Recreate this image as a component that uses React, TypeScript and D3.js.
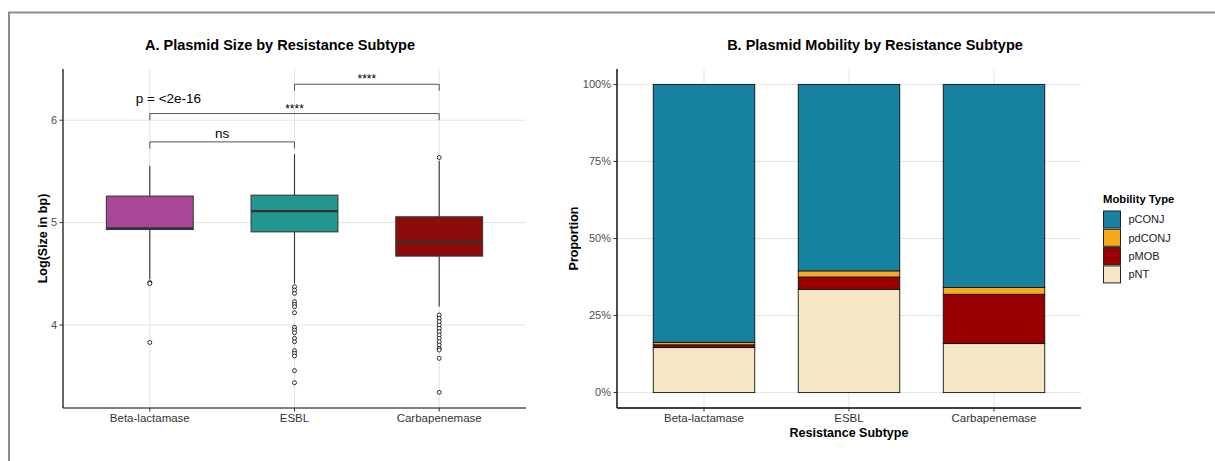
import React from 'react';
import * as d3 from 'd3';

// ---------- Data ----------
const subtypes = ['Beta-lactamase', 'ESBL', 'Carbapenemase'];
const boxColors = ['#A84797', '#23978F', '#8E0B0B'];
const whiskerLow = [4.445, 4.405, 4.18];
const q1 = [4.933, 4.91, 4.673];
const medians = [4.943, 5.112, 4.813];
const q3 = [5.259, 5.268, 5.057];
const whiskerHigh = [5.554, 5.668, 5.605];
const outliersBeta = [4.415, 4.405, 3.83];
const outliersESBL = [4.374, 4.341, 4.309, 4.228, 4.202, 4.179, 4.12, 3.977, 3.951, 3.925, 3.87, 3.837, 3.75, 3.724, 3.698, 3.555, 3.437];
const outliersCarba = [5.636, 4.098, 4.065, 4.033, 4.0, 3.967, 3.935, 3.902, 3.87, 3.837, 3.805, 3.772, 3.756, 3.675, 3.343];
const outliers = [outliersBeta, outliersESBL, outliersCarba];
const sizeTicks = [4, 5, 6];

const comparisonFrom = [0, 0, 1];
const comparisonTo = [1, 2, 2];
const comparisonY = [5.788, 6.065, 6.351];
const comparisonLabels = ['ns', '****', '****'];
const globalPLabel = 'p = <2e-16';

const mobilityTypes = ['pCONJ', 'pdCONJ', 'pMOB', 'pNT'];
const mobilityColors = ['#1681A1', '#F6A91D', '#9A0000', '#F6E7C4'];
const pCONJ = [0.837, 0.605, 0.659];
const pdCONJ = [0.008, 0.02, 0.022];
const pMOB = [0.009, 0.04, 0.16];
const pNT = [0.146, 0.335, 0.159];
const proportionTicks = [0, 0.25, 0.5, 0.75, 1];

// ---------- Layout ----------
const W = 1215;
const H = 461;
const FONT = '"Liberation Sans", Arial, Helvetica, sans-serif';
const GRID = '#e3e3e3';
const TICKCOL = '#4d4d4d';

const A = { x0: 63, x1: 526, y0: 69, y1: 408 };
const B = { x0: 617, x1: 1081, y0: 69, y1: 408 };

export default function App() {
  // Panel A scales
  const xA = d3.scalePoint<string>().domain(subtypes).range([A.x0, A.x1]).padding(0.6);
  const yA = d3.scaleLinear().domain([3.19, 6.5]).range([A.y1, A.y0]);
  const boxW = xA.step() * 0.6;

  // Panel B scales
  const xB = d3.scalePoint<string>().domain(subtypes).range([B.x0, B.x1]).padding(0.6);
  const yB = d3.scaleLinear().domain([-0.05, 1.05]).range([B.y1, B.y0]);
  const barW = xB.step() * 0.7;
  const pct = d3.format('.0%');

  const rows = subtypes.map((s, i) => ({
    subtype: s,
    pCONJ: pCONJ[i],
    pdCONJ: pdCONJ[i],
    pMOB: pMOB[i],
    pNT: pNT[i],
  }));
  const stackKeys = ['pNT', 'pMOB', 'pdCONJ', 'pCONJ'];
  const stacked = d3.stack<any>().keys(stackKeys)(rows);
  const colorOf = d3.scaleOrdinal<string, string>().domain(mobilityTypes).range(mobilityColors);

  const tip = 6.6;

  return (
    <svg
      width={W}
      height={H}
      style={{ position: 'absolute', left: 0, top: 0, background: '#fff' }}
      fontFamily={FONT}
    >
      <rect x={0} y={0} width={W} height={H} fill="#fff" />
      {/* outer frame */}
      <path d={`M9,${H} L9,12.5 L${W},12.5`} fill="none" stroke="#8c8c8c" strokeWidth={2} />

      {/* ================= Panel A ================= */}
      <text x={280} y={50} textAnchor="middle" fontSize={14.5} fontWeight="bold" fill="#000">
        A. Plasmid Size by Resistance Subtype
      </text>
      {/* grid */}
      {sizeTicks.map((t) => (
        <line key={'ga' + t} x1={A.x0} x2={A.x1} y1={yA(t)} y2={yA(t)} stroke={GRID} strokeWidth={1} />
      ))}
      {subtypes.map((s) => (
        <line key={'gva' + s} x1={xA(s)} x2={xA(s)} y1={A.y0} y2={A.y1} stroke={GRID} strokeWidth={1} />
      ))}
      {/* boxes */}
      {subtypes.map((s, i) => {
        const cx = xA(s)!;
        return (
          <g key={'box' + s}>
            <line x1={cx} x2={cx} y1={yA(q3[i])} y2={yA(whiskerHigh[i])} stroke="#333" strokeWidth={1.1} />
            <line x1={cx} x2={cx} y1={yA(q1[i])} y2={yA(whiskerLow[i])} stroke="#333" strokeWidth={1.1} />
            <rect
              x={cx - boxW / 2}
              y={yA(q3[i])}
              width={boxW}
              height={yA(q1[i]) - yA(q3[i])}
              fill={boxColors[i]}
              stroke="#3a3a3a"
              strokeWidth={1.1}
            />
            <line
              x1={cx - boxW / 2}
              x2={cx + boxW / 2}
              y1={yA(medians[i])}
              y2={yA(medians[i])}
              stroke="#333"
              strokeWidth={2.2}
            />
            {outliers[i].map((v, j) => (
              <circle key={j} cx={cx} cy={yA(v)} r={2} fill="#fff" stroke="#000" strokeWidth={0.8} />
            ))}
          </g>
        );
      })}
      {/* comparisons */}
      {comparisonLabels.map((lab, k) => {
        const xa = xA(subtypes[comparisonFrom[k]])!;
        const xb = xA(subtypes[comparisonTo[k]])!;
        const y = yA(comparisonY[k]);
        return (
          <g key={'cmp' + k}>
            <path
              d={`M${xa},${y + tip} L${xa},${y} L${xb},${y} L${xb},${y + tip}`}
              fill="none"
              stroke="#555"
              strokeWidth={1}
            />
            <text
              x={(xa + xb) / 2}
              y={lab === 'ns' ? y - 4 : y - 4 + 3}
              textAnchor="middle"
              fontSize={lab === 'ns' ? 13.5 : 12}
              fill="#000"
            >
              {lab}
            </text>
          </g>
        );
      })}
      <text x={xA(subtypes[0])! - 14} y={103} fontSize={13.5} fill="#000">
        {globalPLabel}
      </text>
      {/* axes */}
      <line x1={A.x0} x2={A.x0} y1={A.y0} y2={A.y1} stroke="#000" strokeWidth={1.2} />
      <line x1={A.x0} x2={A.x1} y1={A.y1} y2={A.y1} stroke="#000" strokeWidth={1.2} />
      {sizeTicks.map((t) => (
        <g key={'ta' + t}>
          <line x1={A.x0 - 3.5} x2={A.x0} y1={yA(t)} y2={yA(t)} stroke="#333" strokeWidth={1} />
          <text x={A.x0 - 6} y={yA(t)} dy="0.35em" textAnchor="end" fontSize={11} fill={TICKCOL}>
            {t}
          </text>
        </g>
      ))}
      {subtypes.map((s) => (
        <g key={'txa' + s}>
          <line x1={xA(s)} x2={xA(s)} y1={A.y1} y2={A.y1 + 3.5} stroke="#333" strokeWidth={1} />
          <text x={xA(s)} y={421.5} textAnchor="middle" fontSize={11.5} fill="#333">
            {s}
          </text>
        </g>
      ))}
      <text
        transform={`translate(46.5,${(A.y0 + A.y1) / 2}) rotate(-90)`}
        textAnchor="middle"
        fontSize={12.5}
        fontWeight="bold"
        fill="#000"
      >
        Log(Size in bp)
      </text>

      {/* ================= Panel B ================= */}
      <text x={875} y={50} textAnchor="middle" fontSize={14.5} fontWeight="bold" fill="#000">
        B. Plasmid Mobility by Resistance Subtype
      </text>
      {proportionTicks.map((t) => (
        <line key={'gb' + t} x1={B.x0} x2={B.x1} y1={yB(t)} y2={yB(t)} stroke={GRID} strokeWidth={1} />
      ))}
      {subtypes.map((s) => (
        <line key={'gvb' + s} x1={xB(s)} x2={xB(s)} y1={B.y0} y2={B.y1} stroke={GRID} strokeWidth={1} />
      ))}
      {stacked.map((layer) => (
        <g key={'layer' + layer.key} fill={colorOf(layer.key)}>
          {layer.map((d, i) => (
            <rect
              key={i}
              x={xB(subtypes[i])! - barW / 2}
              y={yB(d[1])}
              width={barW}
              height={yB(d[0]) - yB(d[1])}
              stroke="#111"
              strokeWidth={0.9}
            />
          ))}
        </g>
      ))}
      <line x1={B.x0} x2={B.x0} y1={B.y0} y2={B.y1} stroke="#000" strokeWidth={1.4} />
      <line x1={B.x0} x2={B.x1} y1={B.y1} y2={B.y1} stroke="#000" strokeWidth={1.4} />
      {proportionTicks.map((t) => (
        <g key={'tb' + t}>
          <line x1={B.x0 - 3.5} x2={B.x0} y1={yB(t)} y2={yB(t)} stroke="#333" strokeWidth={1} />
          <text x={B.x0 - 6} y={yB(t)} dy="0.35em" textAnchor="end" fontSize={11} fill={TICKCOL}>
            {pct(t)}
          </text>
        </g>
      ))}
      {subtypes.map((s) => (
        <g key={'txb' + s}>
          <line x1={xB(s)} x2={xB(s)} y1={B.y1} y2={B.y1 + 3.5} stroke="#333" strokeWidth={1} />
          <text x={xB(s)} y={421.5} textAnchor="middle" fontSize={11.5} fill="#333">
            {s}
          </text>
        </g>
      ))}
      <text x={(B.x0 + B.x1) / 2} y={437} textAnchor="middle" fontSize={12.5} fontWeight="bold" fill="#000">
        Resistance Subtype
      </text>
      <text
        transform={`translate(578,${(B.y0 + B.y1) / 2}) rotate(-90)`}
        textAnchor="middle"
        fontSize={12.5}
        fontWeight="bold"
        fill="#000"
      >
        Proportion
      </text>

      {/* legend */}
      <text x={1103} y={203} fontSize={11.3} fontWeight="bold" fill="#000">
        Mobility Type
      </text>
      {mobilityTypes.map((m, i) => (
        <g key={'lg' + m} transform={`translate(1103.5,${211 + i * 18.3})`}>
          <rect x={0} y={0} width={17} height={17} fill={colorOf(m)} stroke="#222" strokeWidth={1} />
          <text x={25} y={8.5} dy="0.35em" fontSize={11} fill="#222">
            {m}
          </text>
        </g>
      ))}
    </svg>
  );
}
